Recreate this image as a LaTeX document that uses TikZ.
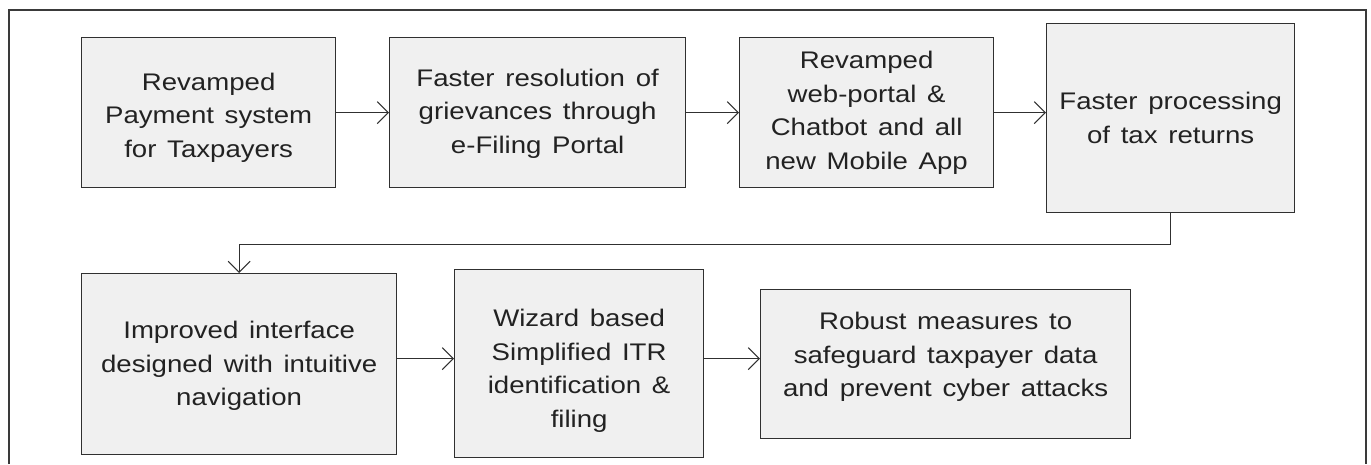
\documentclass[tikz,border=0pt]{standalone}
\usepackage{fontspec}
\setmainfont{Liberation Sans}[FakeStretch=1.15, WordSpace=1.4]
\usetikzlibrary{arrows.meta}
\definecolor{boxfill}{HTML}{F0F0F0}
\definecolor{boxline}{HTML}{303030}
\definecolor{txt}{HTML}{222222}
\definecolor{framecol}{HTML}{3A3A3A}
\tikzset{
  stepbox/.style={draw=boxline, line width=1.3pt, fill=boxfill, anchor=north west,
    inner sep=0pt},
  steptext/.style={anchor=center, inner sep=0pt, align=center, text=txt,
    font=\fontsize{24}{33.5}\selectfont},
  arr/.style={draw=boxline, line width=1.1pt, -{Straight Barb[length=11pt,width=22pt,line width=1.1pt]}}
}
\begin{document}
\begin{tikzpicture}[x=1pt,y=1pt]
\useasboundingbox (0,0) rectangle (1371,-464);
\draw[framecol, line width=1.5pt] (9,-464) -- (9,-10) -- (1366,-10) -- (1366,-464);
% row 1
\node[stepbox, minimum width=254pt, minimum height=150pt] (b1) at (81,-37) {};
\node[steptext] (t1) at ([yshift=-5pt]b1.center) {Revamped\\Payment system\\for Taxpayers};
\node[stepbox, minimum width=296pt, minimum height=150pt] (b2) at (389,-37) {};
\node[steptext] (t2) at ([yshift=-1pt]b2.center) {Faster resolution of\\grievances through\\e-Filing Portal};
\node[stepbox, minimum width=254pt, minimum height=150pt] (b3) at (739,-37) {};
\node[steptext] (t3) at (b3.center) {Revamped\\web-portal \&\\Chatbot and all\\new Mobile App};
\node[stepbox, minimum width=248pt, minimum height=189pt] (b4) at (1046,-23) {};
\node[steptext] (t4) at (b4.center) {Faster processing\\of tax returns};
% row 2
\node[stepbox, minimum width=315pt, minimum height=181pt] (b5) at (81,-273) {};
\node[steptext] (t5) at ([yshift=-2pt]b5.center) {Improved interface\\designed with intuitive\\navigation};
\node[stepbox, minimum width=249pt, minimum height=188pt] (b6) at (454,-269) {};
\node[steptext] (t6) at ([yshift=-7pt]b6.center) {Wizard based\\Simplified ITR\\identification \&\\filing};
\node[stepbox, minimum width=370pt, minimum height=149pt] (b7) at (760,-289) {};
\node[steptext] (t7) at ([yshift=7pt]b7.center) {Robust measures to\\safeguard taxpayer data\\and prevent cyber attacks};
% connectors
\draw[arr] (b1.east) -- (b2.west);
\draw[arr] (b2.east) -- (b3.west);
\draw[arr] (b3.east) -- (b3.east -| b4.west);
\draw[arr] (b4.south) -- ++(0,-31) -| (b5.north);
\draw[arr] ([yshift=5.5pt]b5.east) -- ([yshift=5.5pt]b5.east -| b6.west);
\draw[arr] ([yshift=5pt]b6.east) -- ([yshift=5pt]b6.east -| b7.west);
\end{tikzpicture}
\end{document}
